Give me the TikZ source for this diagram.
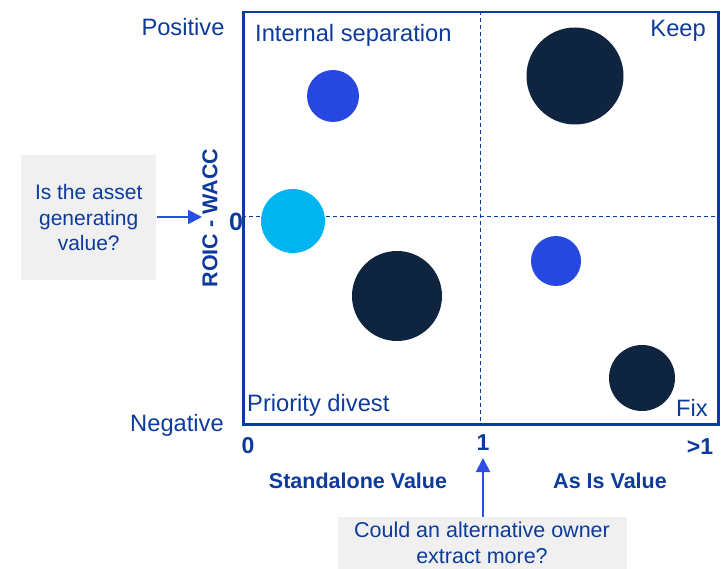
\documentclass[tikz,border=0pt]{standalone}
\usepackage{fontspec}
\setmainfont{Liberation Sans}
\usetikzlibrary{arrows.meta}
\definecolor{txtblue}{HTML}{0D3B9B}
\definecolor{arrblue}{HTML}{2B4FE0}
\definecolor{darkc}{HTML}{0F243E}
\definecolor{midc}{HTML}{2748E0}
\definecolor{cyanc}{HTML}{00B4EF}
\definecolor{boxgray}{HTML}{F0F0F0}
\tikzset{
  lbl/.style={text=txtblue, inner sep=0pt, font=\fontsize{23.7}{28}\selectfont},
  bold/.style={text=txtblue, inner sep=0pt, font=\bfseries\fontsize{21.5}{25}\selectfont},
  qbox/.style={fill=boxgray, text=txtblue, align=center, inner sep=0pt, font=\fontsize{21}{25.5}\selectfont},
  bubble/.style={circle, inner sep=0pt, draw=none},
  arr/.style={draw=arrblue, line width=1.8pt, -{Triangle[length=14pt,width=14pt]}},
  dash line/.style={draw=txtblue, line width=1pt, dash pattern=on 4pt off 3pt}
}
\begin{document}
\begin{tikzpicture}[x=1pt,y=-1pt]
\useasboundingbox (0,0) rectangle (726,569);
% frame
\node[draw=txtblue, line width=2.5pt, minimum width=475pt, minimum height=412pt, inner sep=0pt, anchor=north west] (frame) at (242,11) {};
\coordinate (vtop) at (480,11);
\coordinate (vbot) at (480,423);
\coordinate (hl) at (242,217);
\coordinate (hr) at (717,217);
\draw[dash line] (vtop) -- (vbot);
\draw[dash line] (hl) -- (hr);
% bubbles
\node[bubble, fill=midc, minimum size=52pt] (b1) at (333,96) {};
\node[bubble, fill=darkc, minimum size=97pt] (b2) at (575,76) {};
\node[bubble, fill=cyanc, minimum size=64pt] (b3) at (293,221) {};
\node[bubble, fill=darkc, minimum size=90pt] (b4) at (397,296) {};
\node[bubble, fill=midc, minimum size=50pt] (b5) at (556,261) {};
\node[bubble, fill=darkc, minimum size=66pt] (b6) at (642,378) {};
% quadrant labels
\node[lbl, anchor=west] (q1) at (255,35) {Internal separation};
\node[lbl, anchor=east] (q2) at (706,31) {Keep};
\node[lbl, anchor=west] (q3) at (247,405) {Priority divest};
\node[lbl, anchor=east] (q4) at (708,408) {Fix};
% y axis labels
\node[lbl] (pos) at (183,27) {Positive};
\node[lbl] (neg) at (177,425) {Negative};
\node[text=txtblue, inner sep=0pt, font=\bfseries\fontsize{25}{28}\selectfont] (y0) at (236,222) {0};
\node[bold, rotate=90] (yl) at (210,218) {ROIC - WACC};
% x axis labels
\node[text=txtblue, inner sep=0pt, font=\bfseries\fontsize{23}{26}\selectfont] (x0) at (248,446) {0};
\node[text=txtblue, inner sep=0pt, font=\bfseries\fontsize{23}{26}\selectfont] (x1) at (483,443) {1};
\node[text=txtblue, inner sep=0pt, font=\bfseries\fontsize{23}{26}\selectfont] (x2) at (700,447) {>1};
\node[bold] (sv) at (358,481) {Standalone Value};
\node[bold] (av) at (610,481) {As Is Value};
% question boxes
\node[qbox, minimum width=135pt, minimum height=125pt, anchor=north west] (qa) at (21,155) {Is the asset\\generating\\value?};
\node[qbox, minimum width=289pt, minimum height=60pt, anchor=north west] (qb) at (338,517) {};
\node[text=txtblue, align=center, inner sep=0pt, font=\fontsize{21.5}{25.5}\selectfont, anchor=north] (qbt) at (482,522) {Could an alternative owner\\extract more?};
\coordinate (a1end) at (202,217);
\coordinate (a2end) at (483,458);
\draw[arr] (qa.east |- a1end) ++(1,0) -- (a1end);
\draw[arr] (qb.north -| a2end) -- (a2end);
\end{tikzpicture}
\end{document}
